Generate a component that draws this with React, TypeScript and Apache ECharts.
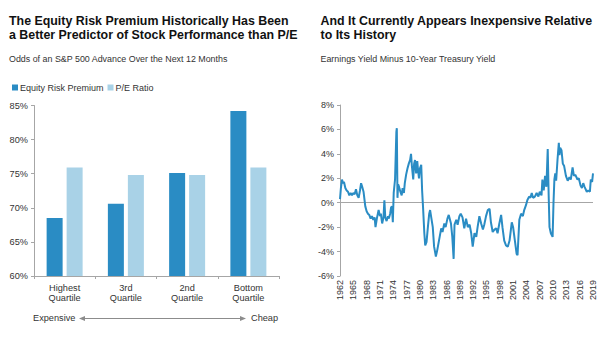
import React, { useEffect, useRef } from "react";
import * as echarts from "echarts";

const QUARTILES = ["Highest\nQuartile", "3rd\nQuartile", "2nd\nQuartile", "Bottom\nQuartile"];
const ERP_ODDS = [68.5, 70.6, 75.1, 84.2];
const PE_ODDS = [75.9, 74.8, 74.8, 75.9];
const LEFT_Y_TICKS = { min: 60, max: 85, interval: 5 };
const RIGHT_Y_TICKS = { min: -6, max: 8, interval: 2 };
const RIGHT_X_TICKS = { min: 1962, max: 2019, interval: 3 };

const SPREAD: [number, number][] = [
  [1962.0, 0.3], [1962.2, 1.2], [1962.45, 1.9], [1962.7, 1.6], [1962.9, 1.7], [1963.2, 1.2],
  [1963.5, 1.0], [1963.8, 0.9], [1964.1, 0.6], [1964.4, 0.8], [1964.7, 0.6], [1965.0, 0.8],
  [1965.3, 0.7], [1965.6, 1.1], [1965.9, 0.6], [1966.2, 0.4], [1966.5, 1.0], [1966.75, 1.6],
  [1967.0, 1.3], [1967.3, 0.9], [1967.7, -0.3], [1968.0, -0.7], [1968.3, -0.9], [1968.6, -1.0],
  [1968.9, -1.3], [1969.2, -1.1], [1969.5, -1.4], [1969.8, -1.2], [1970.0, -2.0], [1970.3, -1.3],
  [1970.7, -0.6], [1971.0, -1.1], [1971.2, -0.9], [1971.5, -1.7], [1971.8, -1.2], [1972.0, 0.2],
  [1972.2, -1.2], [1972.5, -1.5], [1972.8, -1.1], [1973.0, -1.3], [1973.3, -0.9], [1973.5, -0.4],
  [1973.7, -0.3], [1973.9, -1.6], [1974.1, 0.8], [1974.4, 1.9], [1974.6, 4.5], [1974.7, 5.8],
  [1974.8, 6.1], [1974.95, 0.4], [1975.1, 1.5], [1975.3, 1.3], [1975.6, 0.9], [1975.9, 0.6],
  [1976.1, 1.2], [1976.4, 0.8], [1976.6, 1.6], [1976.9, 2.3], [1977.2, 2.8], [1977.5, 3.2],
  [1977.8, 3.5], [1978.0, 4.0], [1978.2, 3.0], [1978.5, 1.9], [1978.7, 3.2], [1978.9, 3.5],
  [1979.15, 2.4], [1979.4, 3.4], [1979.6, 2.6], [1979.8, 2.0], [1980.0, 2.8], [1980.3, 3.1],
  [1980.5, 1.0], [1980.7, -0.3], [1981.0, -2.5], [1981.2, -3.5], [1981.5, -3.2], [1981.8, -2.0],
  [1982.1, -0.9], [1982.3, -0.6], [1982.6, -1.3], [1982.9, -2.0], [1983.2, -3.6], [1983.6, -4.4],
  [1983.9, -3.9], [1984.3, -3.1], [1984.8, -2.1], [1985.1, -2.4], [1985.5, -1.7], [1985.8, -2.0],
  [1986.2, -1.3], [1986.5, -1.0], [1987.0, -1.7], [1987.3, -2.8], [1987.6, -4.6], [1987.8, -1.8],
  [1988.2, -1.4], [1988.5, -1.8], [1988.9, -1.1], [1989.2, -0.9], [1989.6, -1.2], [1990.0, -2.1],
  [1990.4, -1.3], [1990.8, -2.0], [1991.2, -1.8], [1991.56, -2.5], [1991.9, -3.6], [1992.3, -2.5],
  [1992.7, -2.8], [1993.0, -2.0], [1993.4, -1.1], [1993.8, -1.7], [1994.2, -2.2], [1994.5, -1.8],
  [1994.9, -1.1], [1995.3, -0.6], [1995.7, -0.5], [1996.0, -1.6], [1996.4, -2.4], [1996.8, -2.2],
  [1997.2, -2.1], [1997.5, -2.5], [1997.9, -1.7], [1998.3, -1.0], [1998.6, -2.0], [1999.0, -3.1],
  [1999.4, -3.5], [1999.8, -3.6], [2000.2, -3.1], [2000.7, -1.6], [2001.0, -2.0], [2001.4, -3.1],
  [2001.8, -4.2], [2002.0, -4.3], [2002.4, -1.4], [2002.8, -0.9], [2003.2, -1.1], [2003.5, -0.6],
  [2003.9, -0.2], [2004.2, 0.2], [2004.6, 0.5], [2004.9, 0.4], [2005.2, 0.8], [2005.5, 0.4],
  [2005.9, 0.5], [2006.3, 0.8], [2006.7, 0.5], [2007.0, 0.9], [2007.4, 0.6], [2007.6, 1.9],
  [2007.9, 1.0], [2008.2, 2.2], [2008.5, 1.3], [2008.8, 4.4], [2009.0, 0.8], [2009.2, -2.0],
  [2009.5, -2.5], [2009.9, -2.8], [2010.1, 0.0], [2010.3, 1.9], [2010.5, 2.4], [2010.7, 1.8],
  [2011.0, 3.5], [2011.3, 4.9], [2011.45, 3.9], [2011.6, 4.5], [2011.9, 4.3], [2012.2, 3.2],
  [2012.5, 3.0], [2012.9, 2.2], [2013.3, 1.8], [2013.7, 2.1], [2014.0, 1.9], [2014.4, 2.9],
  [2014.7, 2.2], [2015.0, 2.3], [2015.5, 1.9], [2015.8, 2.0], [2016.2, 1.4], [2016.5, 1.2],
  [2016.8, 1.6], [2017.1, 1.3], [2017.6, 0.9], [2017.9, 1.0], [2018.3, 0.9], [2018.5, 1.9],
  [2018.8, 1.7], [2019.0, 2.4],
];

const FONT = "'Liberation Sans', Arial, sans-serif";
const DARK = "#2a8cc4";
const LIGHT = "#a9d2e7";
const AXIS = "#a6a6a6";
const TXT = "#333333";

export default function App() {
  const ref = useRef<HTMLDivElement>(null);
  useEffect(() => {
    document.body.style.margin = "0";
    const chart = echarts.init(ref.current!, null, { renderer: "svg" });
    const titleStyle = { fontFamily: FONT, fontSize: 12.4, fontWeight: "bold" as const, fill: "#111", lineHeight: 14.5 };
    const subStyle = { fontFamily: FONT, fontSize: 8.9, fill: TXT };
    chart.setOption({
      animation: false,
      textStyle: { fontFamily: FONT },
      legend: {
        left: 7,
        top: 78,
        itemWidth: 6,
        itemHeight: 6,
        itemGap: 4,
        icon: "rect",
        textStyle: { fontSize: 9, color: TXT, padding: [0, 0, 0, -3], fontFamily: FONT },
        data: ["Equity Risk Premium", "P/E Ratio"],
      },
      grid: [
        { left: 34, top: 105.5, width: 245, height: 170.5 },
        { left: 340, top: 105, width: 253, height: 171 },
      ],
      xAxis: [
        {
          type: "category",
          gridIndex: 0,
          data: QUARTILES,
          axisLine: { lineStyle: { color: AXIS } },
          axisTick: { show: true, length: 3, lineStyle: { color: AXIS } },
          axisLabel: { color: TXT, fontSize: 9.2, lineHeight: 10, margin: 7, fontFamily: FONT },
        },
        {
          type: "value",
          gridIndex: 1,
          ...RIGHT_X_TICKS,
          axisLine: { show: false },
          axisTick: { show: false },
          splitLine: { show: false },
          axisLabel: {
            rotate: 90,
            color: TXT,
            fontSize: 9,
            margin: 4,
            fontFamily: FONT,
            formatter: (v: number) => String(v),
          },
        },
      ],
      yAxis: [
        {
          type: "value",
          gridIndex: 0,
          ...LEFT_Y_TICKS,
          axisLine: { show: true, lineStyle: { color: AXIS } },
          axisTick: { show: true, length: 3, lineStyle: { color: AXIS } },
          splitLine: { show: false },
          axisLabel: { formatter: "{value}%", color: TXT, fontSize: 9.2, margin: 6, fontFamily: FONT },
        },
        {
          type: "value",
          gridIndex: 1,
          ...RIGHT_Y_TICKS,
          axisLine: { show: true, lineStyle: { color: AXIS } },
          axisTick: { show: true, length: 3, lineStyle: { color: AXIS } },
          splitLine: { show: false },
          axisLabel: { formatter: "{value}%", color: TXT, fontSize: 9, margin: 6, fontFamily: FONT },
        },
      ],
      series: [
        {
          name: "Equity Risk Premium",
          type: "bar",
          xAxisIndex: 0,
          yAxisIndex: 0,
          data: ERP_ODDS,
          barWidth: 16,
          barGap: "25%",
          itemStyle: { color: DARK },
        },
        {
          name: "P/E Ratio",
          type: "bar",
          xAxisIndex: 0,
          yAxisIndex: 0,
          data: PE_ODDS,
          barWidth: 16,
          barGap: "25%",
          itemStyle: { color: LIGHT },
        },
        {
          name: "Spread",
          type: "line",
          xAxisIndex: 1,
          yAxisIndex: 1,
          data: SPREAD,
          showSymbol: false,
          symbol: "none",
          lineStyle: { color: DARK, width: 2 },
          z: 3,
          markLine: {
            silent: true,
            symbol: "none",
            label: { show: false },
            lineStyle: { color: AXIS, type: "solid", width: 1 },
            data: [{ yAxis: 0 }],
            z: 1,
          },
        },
      ],
      graphic: [
        { type: "text", left: 9, top: 13.5, style: { ...titleStyle, text: "The Equity Risk Premium Historically Has Been\na Better Predictor of Stock Performance than P/E" } },
        { type: "text", left: 9, top: 54.5, style: { ...subStyle, text: "Odds of an S&P 500 Advance Over the Next 12 Months" } },
        { type: "text", left: 320.5, top: 13.5, style: { ...titleStyle, text: "And It Currently Appears Inexpensive Relative\nto Its History" } },
        { type: "text", left: 320.5, top: 54.5, style: { ...subStyle, text: "Earnings Yield Minus 10-Year Treasury Yield" } },
        { type: "text", left: 33, top: 313, style: { fontFamily: FONT, fontSize: 9.2, fill: TXT, text: "Expensive" } },
        { type: "text", left: 251, top: 313, style: { fontFamily: FONT, fontSize: 9.2, fill: TXT, text: "Cheap" } },
        { type: "line", shape: { x1: 82, y1: 318.5, x2: 243, y2: 318.5 }, style: { stroke: "#8c8c8c", lineWidth: 1 } },
        { type: "polygon", shape: { points: [[79, 318.5], [85, 316], [85, 321]] }, style: { fill: "#8c8c8c" } },
        { type: "polygon", shape: { points: [[246, 318.5], [240, 316], [240, 321]] }, style: { fill: "#8c8c8c" } },
      ],
    });
    return () => chart.dispose();
  }, []);
  return <div ref={ref} style={{ width: 605, height: 341, background: "#fff" }} />;
}
